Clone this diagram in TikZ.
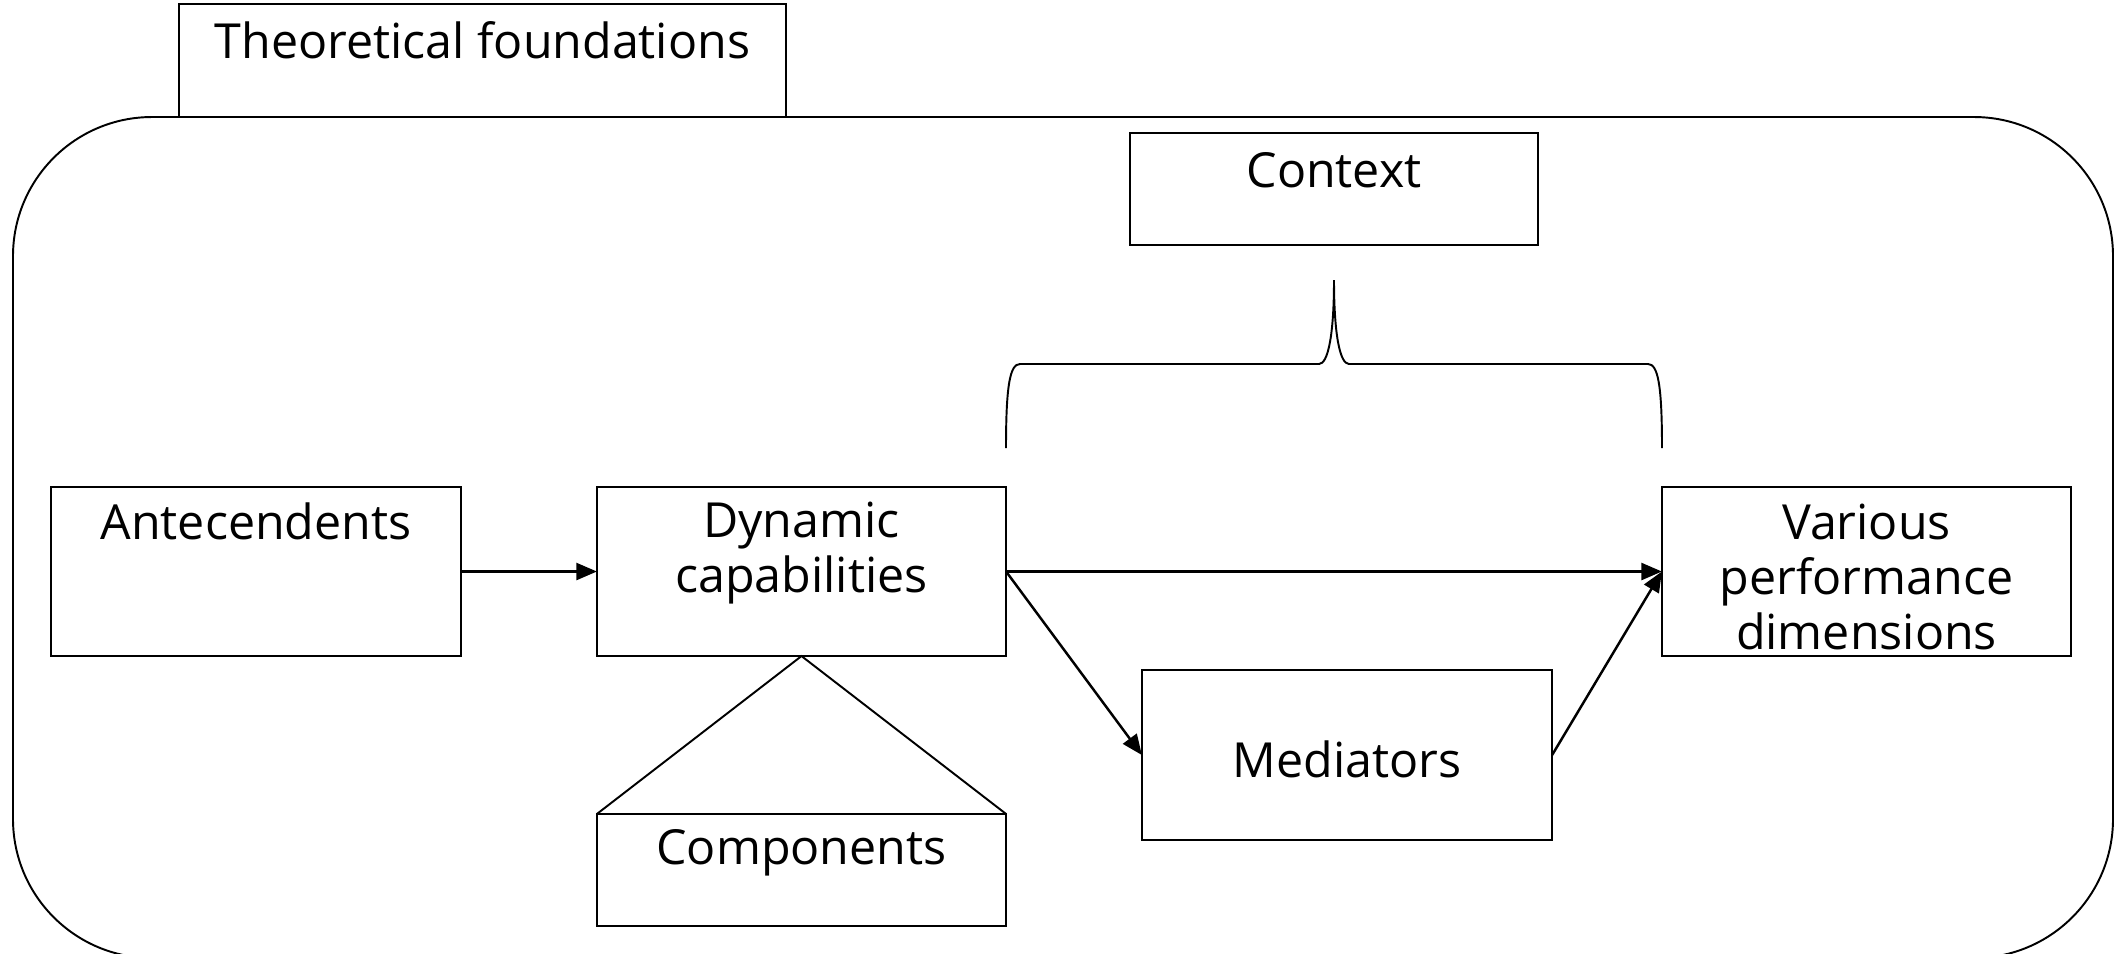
\documentclass[tikz,border=0pt]{standalone}
\usepackage{fontspec}
\setmainfont{Open Sans}
\usetikzlibrary{arrows.meta}
\begin{document}
\begin{tikzpicture}[x=0.01cm,y=-0.01cm,
  box/.style={draw,line width=0.55pt,rectangle,inner sep=0pt,outer sep=0pt},
  txt/.style={inner sep=0pt,align=center,font=\fontsize{13.75}{15.6}\selectfont},
  arr/.style={line width=0.7pt,-{Triangle[length=5.8pt,width=4.8pt]}},
  thin/.style={line width=0.55pt}]
\useasboundingbox (0,0) rectangle (2114,953);
% outer frame
\draw[thin,rounded corners=1.39cm] (13,117) rectangle (2113,958);
% boxes
\node[box,fill=white,minimum width=6.07cm,minimum height=1.13cm] (tf) at (482.5,60.5) {};
\node[box,minimum width=4.10cm,minimum height=1.69cm] (ant) at (256,571.5) {};
\node[box,minimum width=4.09cm,minimum height=1.69cm] (dyn) at (801.5,571.5) {};
\node[box,minimum width=4.09cm,minimum height=1.12cm] (comp) at (801.5,870) {};
\node[box,minimum width=4.08cm,minimum height=1.12cm] (ctx) at (1334,189) {};
\node[box,minimum width=4.10cm,minimum height=1.70cm] (med) at (1347,755) {};
\node[box,minimum width=4.09cm,minimum height=1.69cm] (var) at (1866.5,571.5) {};
% texts
\node[txt] (tft) at (482.5,40) {Theoretical foundations};
\node[txt] (antt) at (256,521) {Antecendents};
\node[txt] (dynt) at (801.5,553) {Dynamic\\capabilities};
\node[txt] (compt) at (801.5,853) {Components};
\node[txt] (ctxt) at (1334,170) {Context};
\node[txt] (medt) at (1347,759) {Mediators};
\node[txt] (vart) at (1866.5,577) {Various\\performance\\dimensions};
% triangle
\draw[thin] (comp.north west) -- (dyn.south) -- (comp.north east);
% brace
\coordinate (bl) at (1006,448);
\coordinate (br) at (1662,448);
\coordinate (bt) at (1334,280);
\draw[thin] (bl) .. controls (1006,385) and (1010,364) .. (1020,364)
  -- (1319,364) .. controls (1328,364) and (1334,335) .. (bt)
  .. controls (1334,335) and (1340,364) .. (1349,364)
  -- (1648,364) .. controls (1658,364) and (1662,385) .. (br);
% arrows
\draw[arr] (ant.east) -- (dyn.west);
\draw[arr] (dyn.east) -- (var.west);
\draw[arr] (dyn.east) -- (med.west);
\draw[arr] (med.east) -- (var.west);
\end{tikzpicture}
\end{document}
